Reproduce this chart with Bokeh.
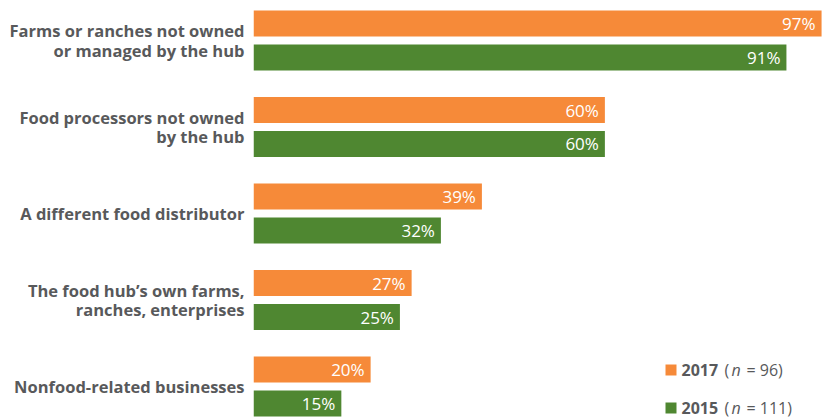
from bokeh.plotting import figure
from bokeh.models import ColumnDataSource, Range1d, FixedTicker, Label, BoxAnnotation
from bokeh.transform import dodge
from bokeh.core.properties import value
from bokeh.embed import file_html
from bokeh.resources import INLINE

categories = [
    "Farms or ranches not owned\nor managed by the hub",
    "Food processors not owned\nby the hub",
    "A different food distributor",
    "The food hub\u2019s own farms,\nranches, enterprises",
    "Nonfood-related businesses",
]
v2017 = [97, 60, 39, 27, 20]
v2015 = [91, 60, 32, 25, 15]

ORANGE = "#F68A39"
GREEN = "#4F8731"
GREY = "#58595B"
FONT = "Open Sans"
LEFT = 253  # frame left edge in pixels

idx = list(range(len(categories)))
src = ColumnDataSource(dict(
    y=idx, v2017=v2017, v2015=v2015,
    l2017=[f"{v}%" for v in v2017], l2015=[f"{v}%" for v in v2015],
))

p = figure(width=824, height=420, output_backend="svg", toolbar_location=None,
           x_range=Range1d(0, 97.5), y_range=Range1d(4.393, -0.4624),
           x_axis_location=None, min_border_left=LEFT, min_border_right=0,
           min_border_top=0, min_border_bottom=0)
p.outline_line_color = None
p.grid.visible = False
p.background_fill_color = "white"

off = 0.1965
bh = 0.30
p.hbar(y=dodge("y", -off), right="v2017", left=0, height=bh, source=src,
       fill_color=ORANGE, line_color=None)
p.hbar(y=dodge("y", off), right="v2015", left=0, height=bh, source=src,
       fill_color=GREEN, line_color=None)

for col, lab, o in [("v2017", "l2017", -off), ("v2015", "l2015", off)]:
    p.text(x=col, y=dodge("y", o), text=lab, source=src, x_offset=-6,
           text_align="right", text_baseline="middle", text_color="white",
           text_font_size="17px", text_font=value(FONT))

ax = p.yaxis[0]
ax.ticker = FixedTicker(ticks=idx)
ax.major_label_overrides = {i: c for i, c in zip(idx, categories)}
ax.major_tick_in = 0
ax.major_tick_out = 0
ax.minor_tick_in = 0
ax.minor_tick_out = 0
ax.axis_line_color = None
ax.major_label_standoff = 9
ax.major_label_text_font = FONT
ax.major_label_text_font_style = "bold"
ax.major_label_text_font_size = "16.5px"
ax.major_label_text_line_height = 0.85
ax.major_label_text_color = GREY

# legend (screen units are measured from the frame's lower-left corner)
for (yb, color, year, n) in [(45, ORANGE, "2017", "96"), (7, GREEN, "2015", "111")]:
    p.add_layout(BoxAnnotation(left=665 - LEFT, right=676 - LEFT, bottom=yb, top=yb + 11,
                               left_units="screen", right_units="screen",
                               bottom_units="screen", top_units="screen",
                               fill_color=color, fill_alpha=1, line_color=None))
    p.add_layout(Label(x=681 - LEFT, y=yb + 5.5, x_units="screen", y_units="screen",
                       text=year, text_font=FONT, text_font_style="bold",
                       text_font_size="16px", text_color=GREY, text_baseline="middle"))
    p.add_layout(Label(x=724 - LEFT, y=yb + 5.5, x_units="screen", y_units="screen",
                       text="(", text_font=FONT, text_font_size="16px",
                       text_color=GREY, text_baseline="middle"))
    p.add_layout(Label(x=731 - LEFT, y=yb + 5.5, x_units="screen", y_units="screen",
                       text="n", text_font=FONT, text_font_style="italic",
                       text_font_size="16px", text_color=GREY, text_baseline="middle"))
    p.add_layout(Label(x=746 - LEFT, y=yb + 5.5, x_units="screen", y_units="screen",
                       text=f"= {n})", text_font=FONT, text_font_size="16px",
                       text_color=GREY, text_baseline="middle"))

open("out.html", "w").write(file_html(p, INLINE))
